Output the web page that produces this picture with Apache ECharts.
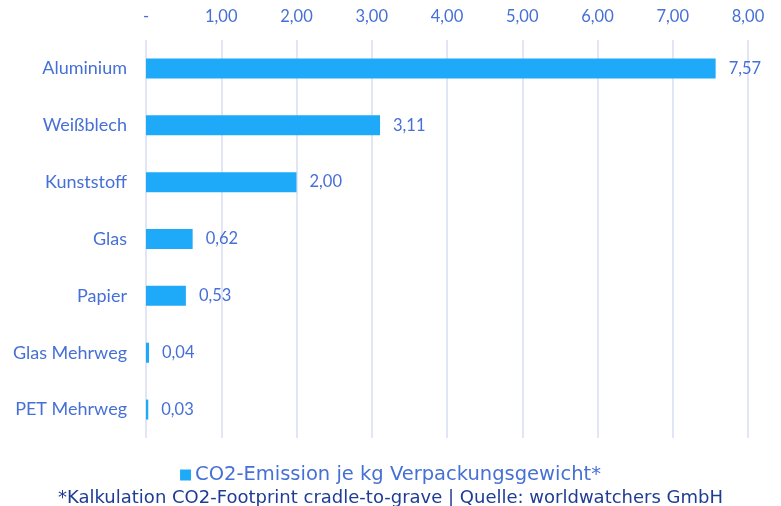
<!DOCTYPE html>
<html>
<head>
<meta charset="utf-8">
<script src="https://cdn.jsdelivr.net/npm/echarts@6/dist/echarts.min.js"></script>
<style>
  html, body { margin: 0; padding: 0; background: #fff; }
  #chart { width: 781px; height: 506px; }
</style>
</head>
<body>
<div id="chart"></div>
<script>
// === Data === //
const categories = ['Aluminium', 'Weißblech', 'Kunststoff', 'Glas', 'Papier', 'Glas Mehrweg', 'PET Mehrweg']
const values = [7.57, 3.11, 2.00, 0.62, 0.53, 0.04, 0.03]
const seriesName = 'CO2-Emission je kg Verpackungsgewicht*'
const footnote = '*Kalkulation CO2-Footprint cradle-to-grave | Quelle: worldwatchers GmbH'

const blue = '#1eaaf9'
const textBlue = '#4670d6'
const fmt = v => (v === 0 ? '-' : v.toFixed(2).replace('.', ','))

const myChart = echarts.init(document.getElementById('chart'))

myChart.setOption({
  animation: false,
  textStyle: { fontFamily: 'Lato' },
  title: {
    text: footnote,
    left: 'center',
    top: 484,
    textStyle: { color: '#1e3b96', fontSize: 18, fontWeight: 'normal', fontFamily: 'DejaVu Sans' }
  },
  legend: {
    top: 460,
    left: 'center',
    itemWidth: 11,
    itemHeight: 11,
    itemGap: 6,
    icon: 'rect',
    textStyle: { color: textBlue, fontSize: 19.5, fontFamily: 'DejaVu Sans', padding: [0, 0, 0, -1] },
    data: [seriesName]
  },
  grid: { left: 146, right: 33, top: 40, bottom: 68, containLabel: false },
  xAxis: {
    type: 'value',
    position: 'top',
    min: 0,
    max: 8,
    interval: 1,
    axisLine: { show: false },
    axisTick: { show: false },
    axisLabel: { color: textBlue, fontSize: 16.5, margin: 15, formatter: fmt },
    splitLine: { show: true, lineStyle: { color: '#d8def0', width: 1.5 } }
  },
  yAxis: {
    type: 'category',
    inverse: true,
    data: categories,
    axisLine: { show: false },
    axisTick: { show: false },
    axisLabel: { color: textBlue, fontSize: 18, margin: 19 }
  },
  series: [
    {
      name: seriesName,
      type: 'bar',
      data: values,
      barWidth: 20,
      itemStyle: { color: blue },
      label: {
        show: true,
        position: 'right',
        distance: 13,
        color: textBlue,
        fontSize: 16.5,
        formatter: p => fmt(p.value)
      }
    }
  ]
})
</script>
</body>
</html>
